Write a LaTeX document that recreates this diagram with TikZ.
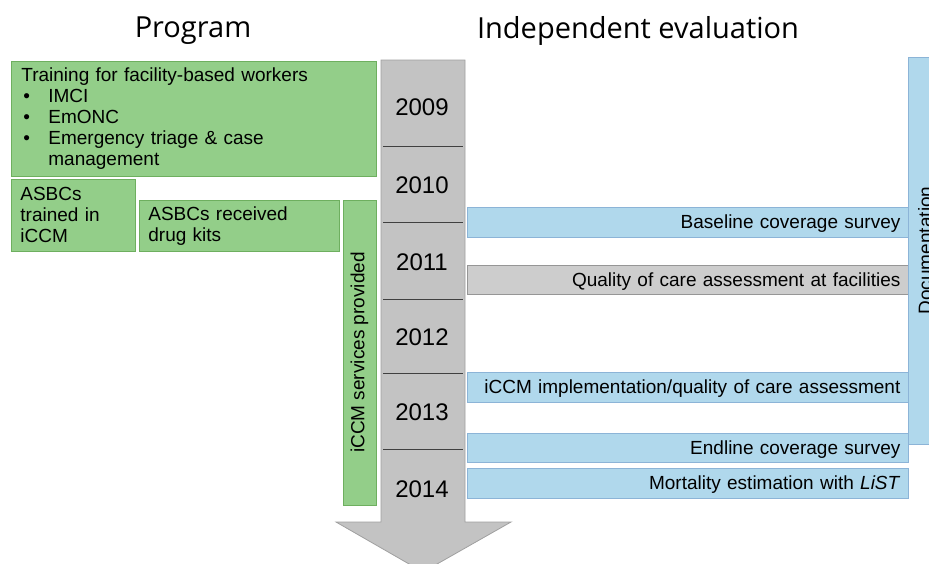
\documentclass[tikz,border=0pt]{standalone}
\usepackage{fontspec}
\setmainfont{Liberation Sans}
\newfontfamily\titlefont{Open Sans}
\definecolor{gfill}{RGB}{147,206,137}
\definecolor{gline}{RGB}{110,175,95}
\definecolor{bfill}{RGB}{176,216,236}
\definecolor{bline}{RGB}{140,180,215}
\definecolor{afill}{RGB}{195,195,195}
\definecolor{aline}{RGB}{160,160,160}
\definecolor{qfill}{RGB}{205,205,205}
\definecolor{qline}{RGB}{150,150,150}
\begin{document}
\begin{tikzpicture}[x=1pt,y=-1pt,
  bodytext/.style={font=\fontsize{19}{21}\selectfont},
  gbox/.style={draw=gline, fill=gfill, line width=0.8pt, inner sep=0pt, bodytext},
  bbox/.style={draw=bline, fill=bfill, line width=0.8pt, inner sep=0pt, bodytext},
  qbox/.style={draw=qline, fill=qfill, line width=0.8pt, inner sep=0pt, bodytext},
  evbox/.style={minimum width=441pt, anchor=north west, text width=425pt, align=right,
    text height=16.5pt, text depth=4pt},
  year/.style={font=\fontsize{24}{28}\selectfont},
  sep/.style={draw=black!75, line width=0.8pt},
  title/.style={font=\titlefont\fontsize{29}{34}\selectfont}]
\useasboundingbox (0,0) rectangle (929,563);
\clip (0,0) rectangle (929,563);

% titles
\node[title] (tprog) at (193,30.5) {Program};
\node[title] (teval) at (638,30.5) {Independent evaluation};

% timeline arrow
\filldraw[fill=afill, draw=aline, line width=0.8pt]
  (381,60) -- (465,60) -- (465,522) -- (511,522) -- (423,572) -- (336,522) -- (381,522) -- cycle;
\foreach \yy in {146,222,299,373,449} \draw[sep] (383,\yy) -- (463,\yy);
\node[year] (y2009) at (422,107) {2009};
\node[year] (y2010) at (422,185) {2010};
\node[year] (y2011) at (422,262) {2011};
\node[year] (y2012) at (422,337) {2012};
\node[year] (y2013) at (422,412) {2013};
\node[year] (y2014) at (422,489) {2014};

% program boxes
\node[gbox, minimum width=365pt, minimum height=115pt, anchor=north west,
  text width=345pt, align=left] (train) at (11,61)
  {Training for facility-based workers\\
   \hspace*{2pt}\makebox[25pt][l]{•}IMCI\\
   \hspace*{2pt}\makebox[25pt][l]{•}EmONC\\
   \hspace*{2pt}\makebox[25pt][l]{•}Emergency triage \& case\\
   \hspace*{27pt}management};
\node[gbox, minimum width=124pt, minimum height=72pt, anchor=north west,
  text width=106pt, align=left] (asbc1) at (11,179)
  {ASBCs\\trained in\\iCCM};
\node[gbox, minimum width=200pt, minimum height=51pt, anchor=north west,
  text width=182pt, align=left] (asbc2) at (139,200)
  {ASBCs received\\drug kits};
\node[gbox, rotate=90, minimum width=305pt, minimum height=33pt] (iccm) at (359.5,352.5)
  {iCCM services provided};

% evaluation boxes
\node[bbox, evbox, minimum height=30pt] (base) at (467,207) {Baseline coverage survey};
\node[qbox, evbox, minimum height=29pt] (qual) at (467,265) {Quality of care assessment at facilities};
\node[bbox, evbox, minimum height=30pt] (impl) at (467,372) {iCCM implementation/quality of care assessment};
\node[bbox, evbox, minimum height=29pt] (endl) at (467,433) {Endline coverage survey};
\node[bbox, evbox, minimum height=30pt] (mort) at (467,468) {Mortality estimation with \textit{LiST}};

% documentation
\node[bbox, rotate=90, minimum width=387pt, minimum height=34pt] (doc) at (925,250.5)
  {Documentation};
\end{tikzpicture}
\end{document}
